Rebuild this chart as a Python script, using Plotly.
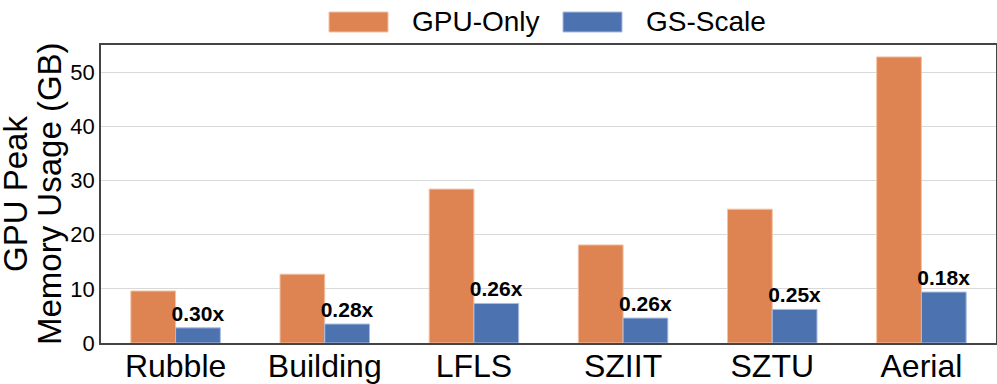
import plotly.graph_objects as go

categories = ["Rubble", "Building", "LFLS", "SZIIT", "SZTU", "Aerial"]
gpu_only = [9.6, 12.7, 28.4, 18.1, 24.7, 52.8]
gs_scale = [2.8, 3.5, 7.3, 4.6, 6.2, 9.4]
ratio_labels = ["0.30x", "0.28x", "0.26x", "0.26x", "0.25x", "0.18x"]
series_names = ["GPU-Only", "GS-Scale"]
y_ticks = [0, 10, 20, 30, 40, 50]
y_title_lines = ["GPU Peak", "Memory Usage (GB)"]

ORANGE = "#DD8452"
BLUE = "#4C72B0"
FONT = "Liberation Sans, Arial, sans-serif"

L, R, T, B = 101, 1, 45, 41
W, H = 997, 384
PW, PH = W - L - R, H - T - B

fig = go.Figure()
fig.add_trace(go.Bar(
    x=categories, y=gpu_only, name=series_names[0],
    marker=dict(color=ORANGE, line=dict(color="#F2C2A4", width=1)),
    showlegend=False,
))
fig.add_trace(go.Bar(
    x=categories, y=gs_scale, name=series_names[1],
    marker=dict(color=BLUE, line=dict(color="#A9BCE0", width=1)),
    text=ratio_labels, textposition="outside", constraintext="none",
    textfont=dict(family=FONT, size=21, color="black", weight="bold"),
    cliponaxis=False, showlegend=False,
))

fig.update_layout(
    width=W, height=H,
    margin=dict(l=L, r=R, t=T, b=B, autoexpand=False),
    paper_bgcolor="white", plot_bgcolor="white",
    barmode="group", bargap=0.4, bargroupgap=0,
    font=dict(family=FONT, color="black"),
    xaxis=dict(
        tickfont=dict(size=32, color="black"),
        showline=True, linecolor="#444", linewidth=1.5, mirror=True,
        ticks="", range=[-0.5, 5.5], automargin=False,
        ticklabelstandoff=-6,
    ),
    yaxis=dict(
        range=[0, 55], tickvals=y_ticks,
        tickfont=dict(size=22, color="black"),
        showgrid=True, gridcolor="#D9D9D9", gridwidth=1,
        showline=True, linecolor="#444", linewidth=1.5, mirror=True,
        ticks="", zeroline=False, automargin=False,
    ),
)

# two-line rotated y-axis title
for line_text, cx in zip(y_title_lines, [15, 49]):
    fig.add_annotation(xref="paper", yref="paper", x=(cx - L) / PW, y=0.5,
                       text=line_text, textangle=-90, showarrow=False,
                       xanchor="center", yanchor="middle",
                       font=dict(size=33, color="black", family=FONT))

# custom legend with large swatches
legend_items = [(series_names[0], ORANGE, "#F2C2A4", 329), (series_names[1], BLUE, "#A9BCE0", 563)]
for name, col, edge, px in legend_items:
    fig.add_shape(type="rect", xref="paper", yref="paper",
                  x0=(px - L) / PW, x1=(px + 59 - L) / PW,
                  y0=(H - B - 32) / PH, y1=(H - B - 12) / PH,
                  fillcolor=col, line=dict(color=edge, width=1))
    fig.add_annotation(xref="paper", yref="paper", x=(px + 81 - L) / PW, y=(H - B - 22) / PH,
                       text=name, showarrow=False, xanchor="left", yanchor="middle",
                       font=dict(size=28, color="black", family=FONT))

fig.write_html("out.html", config={"displayModeBar": False},
               post_script="document.body.style.margin='0';document.body.style.overflow='hidden';")
